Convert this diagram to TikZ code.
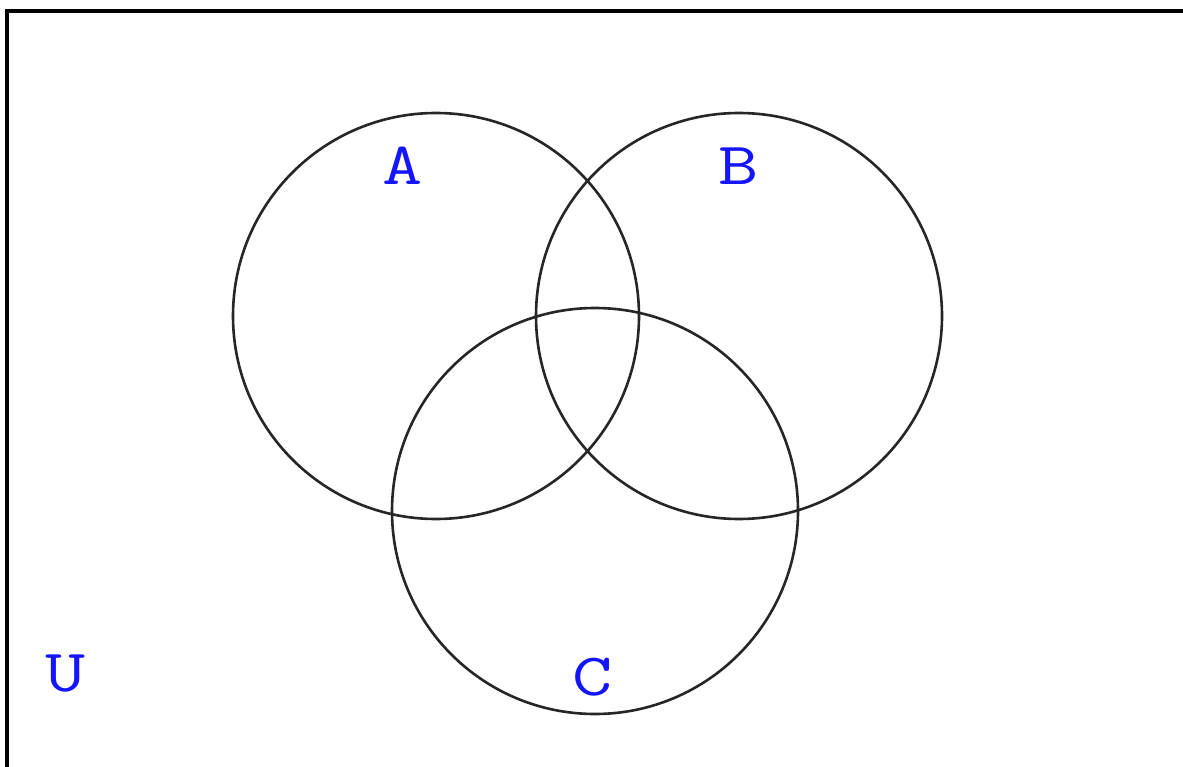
\documentclass[tikz,border=0pt]{standalone}
\usepackage{fontspec}
\definecolor{lblue}{RGB}{20,20,255}
\newcommand{\widelbl}[1]{\scalebox{1.3}[1]{#1}}
\tikzset{
  setcircle/.style={draw=black!85, line width=2.6pt},
  setlabel/.style={text=lblue, font=\ttfamily\fontsize{60}{60}\selectfont, inner sep=0pt, anchor=center}
}
\begin{document}
\begin{tikzpicture}[x=1pt,y=-1pt]
\clip (0,0) rectangle (1183,767);
\fill[white] (0,0) rectangle (1183,767);
\draw[line width=4pt] (7,11) rectangle (1300,900);
\node[setcircle, circle, minimum size=406pt, inner sep=0pt] (A) at (436,316) {};
\node[setcircle, circle, minimum size=406pt, inner sep=0pt] (B) at (739,316) {};
\node[setcircle, circle, minimum size=406pt, inner sep=0pt] (C) at (595,511) {};
\node[setlabel] (la) at (403,166) {\widelbl{A}};
\node[setlabel] (lb) at (739,166) {\widelbl{B}};
\node[setlabel] (lc) at (593,677) {\widelbl{C}};
\node[setlabel] (lu) at (66,674) {\widelbl{U}};
\end{tikzpicture}
\end{document}
